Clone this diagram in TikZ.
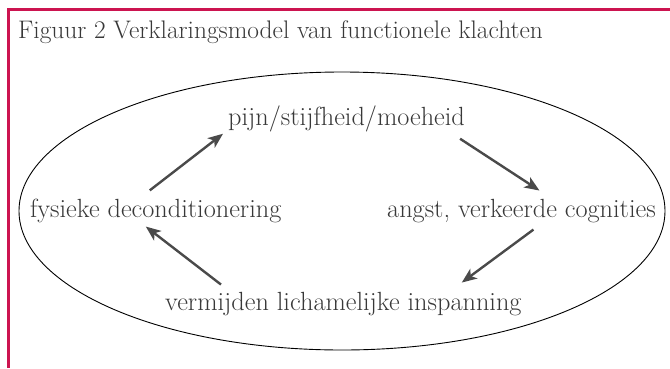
\documentclass[tikz,border=0pt]{standalone}
\usetikzlibrary{arrows.meta}

\definecolor{kader}{HTML}{CC1450}
\definecolor{tekst}{HTML}{383838}
\definecolor{pijlkleur}{HTML}{4A4A4A}

\tikzset{
 label/.style={anchor=base west,inner sep=0pt,text=tekst,font=\fontsize{26.3}{30}\selectfont},
 pijl/.style={pijlkleur,line width=2.4pt,-{Stealth[length=15pt,width=12pt,inset=4pt]}}
}

\begin{document}
\begin{tikzpicture}[x=1pt,y=-1pt]
\useasboundingbox (0,0) rectangle (670,368);

% kader
\draw[kader,line width=2.5pt] (670,9.5) -- (8.5,9.5) -- (8.5,368);
\node[label,font=\fontsize{25.4}{30}\selectfont] (titel) at (18,38) {Figuur 2 Verklaringsmodel van functionele klachten};

% ellips
\draw[line width=0.9pt] (342,211) ellipse [x radius=323,y radius=139];

\node[label] (pijn) at (228,125) {pijn/stijfheid/moeheid};
\node[label] (angst) at (387,217) {angst, verkeerde cognities};
\node[label] (verm) at (165,310) {vermijden lichamelijke inspanning};
\node[label] (fys) at (30,217) {fysieke deconditionering};

% pijlen
\draw[pijl] ([xshift=-6pt,yshift=8pt]fys.north) -- ([xshift=-5pt,yshift=-2pt]pijn.south west);
\draw[pijl] ([xshift=-5pt,yshift=-7pt]pijn.south east) -- ([xshift=18pt,yshift=8pt]angst.north);
\draw[pijl] ([xshift=12pt,yshift=-7pt]angst.south) -- ([xshift=-60pt,yshift=9pt]verm.north east);
\draw[pijl] ([xshift=56pt,yshift=7pt]verm.north west) -- ([xshift=-10pt,yshift=-4pt]fys.south);

\end{tikzpicture}
\end{document}
